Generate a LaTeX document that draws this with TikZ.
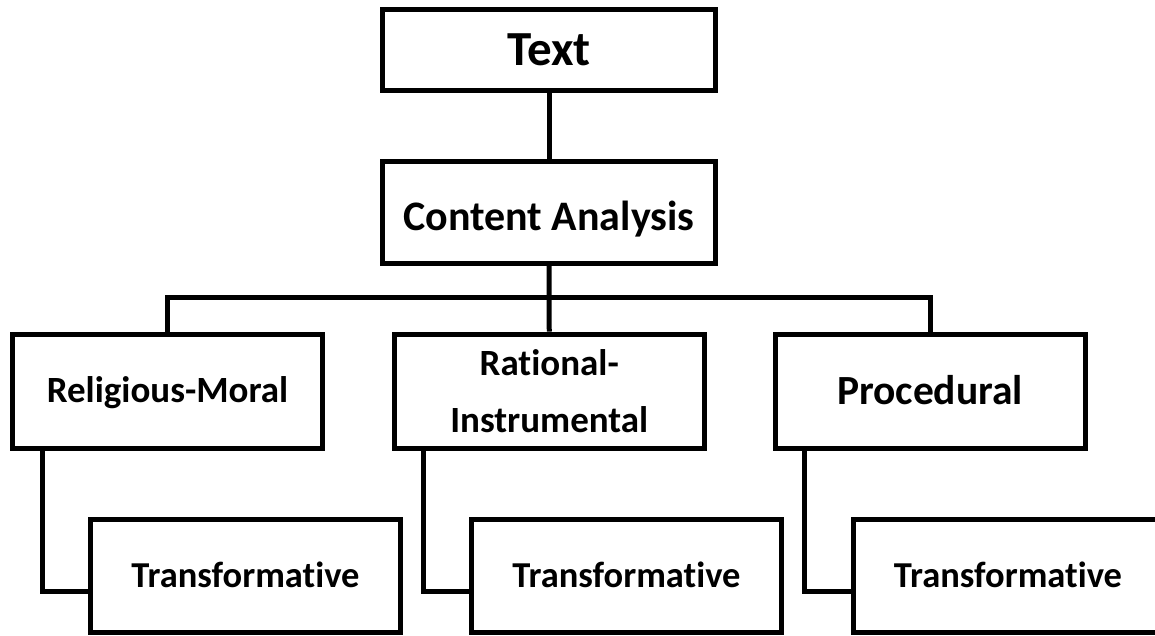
\documentclass[tikz,border=0pt]{standalone}
\usepackage{fontspec}
\setmainfont{Carlito}[Ligatures={NoCommon}]
\begin{document}
\begin{tikzpicture}[x=1pt,y=-1pt,
  box/.style={draw=black,line width=5pt,fill=white,inner sep=0pt,
    font=\bfseries, text depth=0pt},
  link/.style={draw=black,line width=5pt}]
\useasboundingbox[fill=white] (0,0) rectangle (1155,635);
\clip (0,0) rectangle (1155,635);
% boxes
\node[box,minimum width=333pt,minimum height=80.5pt,text height=31pt,font=\bfseries\fontsize{49}{58}\selectfont] (text) at (549,49.75) {Text};
\node[box,minimum width=333pt,minimum height=101.5pt,text height=36pt,font=\bfseries\fontsize{42}{50}\selectfont] (ca) at (549,212.25) {Content Analysis};
\node[box,minimum width=310pt,minimum height=114pt,text height=23.4pt,font=\bfseries\fontsize{37}{44}\selectfont] (rm) at (167.5,391) {Religious-Moral};
\node[box,minimum width=310.5pt,minimum height=114pt,align=center,text depth=,font=\bfseries\fontsize{37}{57}\selectfont] (ri) at (549.25,391) {Rational-\\Instrumental};
\node[box,minimum width=310pt,minimum height=114pt,text height=26.2pt,font=\bfseries\fontsize{41.5}{50}\selectfont] (pr) at (930,391) {Procedural};
\node[box,minimum width=310pt,minimum height=112.5pt,text height=23.1pt,font=\bfseries\fontsize{36.5}{44}\selectfont] (t1) at (245.5,575.75) {Transformative};
\node[box,minimum width=310pt,minimum height=112.5pt,text height=23.1pt,font=\bfseries\fontsize{36.5}{44}\selectfont] (t2) at (626.5,575.75) {Transformative};
\node[box,minimum width=310pt,minimum height=112.5pt,text height=23.1pt,font=\bfseries\fontsize{36.5}{44}\selectfont] (t3) at (1008,575.75) {Transformative};
% connectors
\coordinate (bar) at (549,297.5);
\draw[link] (text.south) -- (ca.north);
\draw[link] (ca.south) -- (ri.north);
\draw[link] (rm.north) |- (bar) -| (pr.north);
\draw[link] ([xshift=32pt]rm.south west) |- ([yshift=-15.25pt]t1.west);
\draw[link] ([xshift=31.5pt]ri.south west) |- ([yshift=-15.25pt]t2.west);
\draw[link] ([xshift=31.5pt]pr.south west) |- ([yshift=-15.25pt]t3.west);
\end{tikzpicture}
\end{document}
